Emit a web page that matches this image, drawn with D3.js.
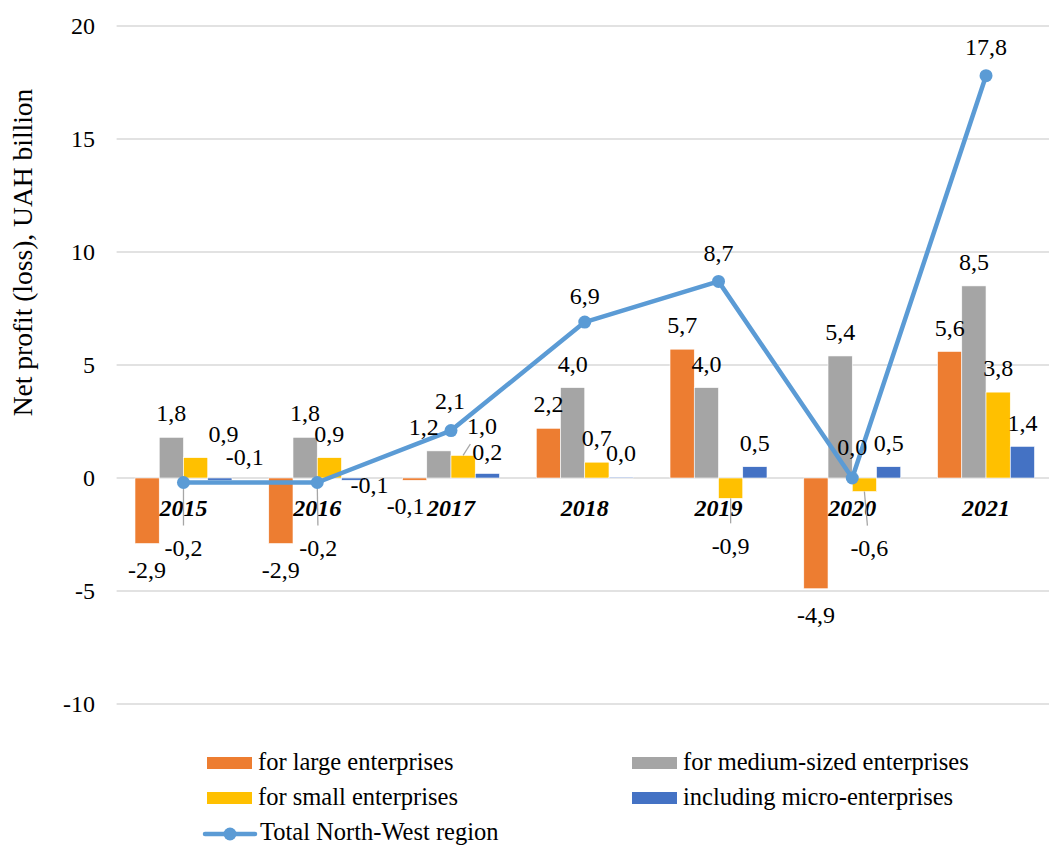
<!DOCTYPE html>
<html>
<head>
<meta charset="utf-8">
<script src="https://cdn.jsdelivr.net/npm/d3@7"></script>
<style>
  html, body { margin: 0; padding: 0; background: #fff; }
  svg { display: block; }
  text { font-family: "Liberation Serif", "Times New Roman", serif; fill: #000; }
</style>
</head>
<body>
<svg id="chart" width="1049" height="846"></svg>
<script>
// ---- data ----
const years = ["2015", "2016", "2017", "2018", "2019", "2020", "2021"];
const seriesNames = ["for large enterprises", "for medium-sized enterprises", "for small enterprises", "including micro-enterprises"];
const largeValues  = [-2.9, -2.9, -0.1, 2.2, 5.7, -4.9, 5.6];
const mediumValues = [1.8, 1.8, 1.2, 4.0, 4.0, 5.4, 8.5];
const smallValues  = [0.9, 0.9, 1.0, 0.7, -0.9, -0.6, 3.8];
const microValues  = [-0.1, -0.1, 0.2, 0.04, 0.5, 0.5, 1.4];
const totalName = "Total North-West region";
const totalValues = [-0.2, -0.2, 2.1, 6.9, 8.7, 0.0, 17.8];
const yTicks = [-10, -5, 0, 5, 10, 15, 20];
const yTitle = "Net profit (loss), UAH billion";

// ---- styling ----
const colors = ["#ED7D31", "#A5A5A5", "#FFC000", "#4472C4"];
const lineColor = "#5B9BD5";
const leaderColor = "#A6A6A6";
const FS = 24;

// label nudges (pixel offsets from default label placement)
const barNudges = [
  {s: 0, y: "2017", dx: -9, dy: 0},
  {s: 1, y: "2017", dx: -15, dy: 0},
  {s: 2, y: "2015", dx: 28, dy: 0},
  {s: 2, y: "2017", dx: 19, dy: -6, leader: true},
  {s: 2, y: "2019", dx: 0, dy: 21, leader: true},
  {s: 2, y: "2020", dx: 5, dy: 30, leader: true},
  {s: 3, y: "2015", dx: 25, dy: -49},
  {s: 3, y: "2016", dx: 16, dy: -21},
  {s: 3, y: "2017", dx: 0, dy: 2}
];
const lineNudges = [
  {y: "2015", dx: 0, dy: 94, leader: true},
  {y: "2016", dx: 1, dy: 94, leader: true},
  {y: "2017", dx: -1, dy: -1},
  {y: "2018", dx: 0, dy: 3},
  {y: "2020", dx: 0, dy: -2}
];

const svg = d3.select("#chart");
const W = 1049, H = 846;
const plotLeft = 116.6, plotRight = 1052.9;

const y = d3.scaleLinear().domain([-10, 20]).range([704, 26]);
const x0 = d3.scaleBand().domain(years).range([plotLeft, plotRight]).paddingInner(0.275).paddingOuter(0.1375);
const x1 = d3.scaleBand().domain(d3.range(4)).range([0, x0.bandwidth()]);
const cx = d => x0(d) + x0.bandwidth() / 2;
const fmt = v => d3.format(".1f")(v).replace(".", ",").replace("−", "-");

// gridlines
svg.append("g").selectAll("line").data(yTicks).join("line")
  .attr("x1", plotLeft).attr("x2", W)
  .attr("y1", d => y(d)).attr("y2", d => y(d))
  .attr("stroke", "#D9D9D9").attr("stroke-width", 1.5);

// y tick labels
svg.append("g").selectAll("text").data(yTicks).join("text")
  .attr("x", 95).attr("y", d => y(d)).attr("dy", "0.34em")
  .attr("text-anchor", "end").attr("font-size", FS)
  .text(d => d);

// y title
svg.append("text")
  .attr("transform", `translate(32, ${(88 + 417) / 2}) rotate(-90)`)
  .attr("text-anchor", "middle").attr("font-size", 27.5)
  .text(yTitle);

const seriesVals = [largeValues, mediumValues, smallValues, microValues];
const barData = [];
seriesVals.forEach((vals, s) => vals.forEach((v, i) => barData.push({s, year: years[i], v})));

// bars
svg.append("g").selectAll("rect").data(barData).join("rect")
  .attr("x", d => x0(d.year) + x1(d.s))
  .attr("width", x1.bandwidth())
  .attr("y", d => Math.min(y(d.v), y(0)))
  .attr("height", d => Math.max(Math.abs(y(d.v) - y(0)), 0.8))
  .attr("fill", d => colors[d.s])
  .attr("stroke", "#fff").attr("stroke-width", 0.6);

// category labels
svg.append("g").selectAll("text").data(years).join("text")
  .attr("x", d => cx(d)).attr("y", y(0) + 30).attr("dy", "0.34em")
  .attr("text-anchor", "middle").attr("font-size", FS)
  .attr("font-weight", "bold").attr("font-style", "italic")
  .text(d => d);

// bar label positions
barData.forEach(d => {
  const bx = x0(d.year) + x1(d.s) + x1.bandwidth() / 2;
  d.ax = bx; d.ay = y(d.v);
  d.lx = bx; d.ly = d.v >= 0 ? y(d.v) - 24 : y(d.v) + 26;
  const n = barNudges.find(b => b.s === d.s && b.y === d.year);
  if (n) { d.lx += n.dx; d.ly += n.dy; d.leader = !!n.leader; }
});

// line data
const lineData = years.map((yr, i) => {
  const px = cx(yr), py = y(totalValues[i]);
  const d = {year: yr, v: totalValues[i], ax: px, ay: py, lx: px, ly: py - 29};
  const n = lineNudges.find(b => b.y === yr);
  if (n) { d.lx += n.dx; d.ly += n.dy; d.leader = !!n.leader; }
  return d;
});

// leader lines
const leaderData = barData.filter(d => d.leader).concat(lineData.filter(d => d.leader));
svg.append("g").selectAll("line").data(leaderData).join("line")
  .attr("x1", d => d.ax).attr("y1", d => d.ay)
  .attr("x2", d => { const L = Math.hypot(d.lx - d.ax, d.ly - d.ay); return d.lx - (d.lx - d.ax) / L * 22; })
  .attr("y2", d => { const L = Math.hypot(d.lx - d.ax, d.ly - d.ay); return d.ly - (d.ly - d.ay) / L * 22; })
  .attr("stroke", leaderColor).attr("stroke-width", 1.3);

// line
svg.append("path").datum(lineData)
  .attr("fill", "none").attr("stroke", lineColor).attr("stroke-width", 4.5)
  .attr("stroke-linejoin", "round").attr("stroke-linecap", "round")
  .attr("d", d3.line().x(d => d.ax).y(d => d.ay));
svg.append("g").selectAll("circle").data(lineData).join("circle")
  .attr("cx", d => d.ax).attr("cy", d => d.ay).attr("r", 6.5).attr("fill", lineColor);

// bar labels
svg.append("g").selectAll("text").data(barData).join("text")
  .attr("x", d => d.lx).attr("y", d => d.ly).attr("dy", "0.34em")
  .attr("text-anchor", "middle").attr("font-size", FS)
  .text(d => fmt(d.v));

// line labels
svg.append("g").selectAll("text").data(lineData).join("text")
  .attr("x", d => d.lx).attr("y", d => d.ly).attr("dy", "0.34em")
  .attr("text-anchor", "middle").attr("font-size", FS)
  .text(d => fmt(d.v));

// legend
const legendItems = [
  {i: 0, x: 207, row: 0}, {i: 1, x: 632, row: 0},
  {i: 2, x: 207, row: 1}, {i: 3, x: 632, row: 1}
];
const rowBase = [770, 805, 840];
const LFS = 24.5;
const lg = svg.append("g");
legendItems.forEach(it => {
  lg.append("rect").attr("x", it.x).attr("y", rowBase[it.row] - 13)
    .attr("width", 45).attr("height", 12).attr("fill", colors[it.i]);
  lg.append("text").attr("x", it.x + 51).attr("y", rowBase[it.row])
    .attr("font-size", LFS).text(seriesNames[it.i]);
});
lg.append("line").attr("x1", 205).attr("x2", 255).attr("y1", 834).attr("y2", 834)
  .attr("stroke", lineColor).attr("stroke-width", 4.5).attr("stroke-linecap", "round");
lg.append("circle").attr("cx", 230).attr("cy", 834).attr("r", 6.5).attr("fill", lineColor);
lg.append("text").attr("x", 260).attr("y", 840).attr("font-size", LFS).text(totalName);
</script>
</body>
</html>
